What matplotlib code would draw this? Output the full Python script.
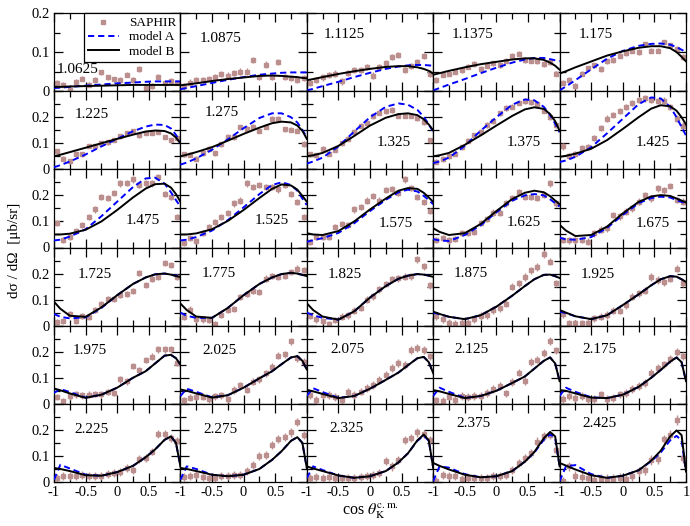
import matplotlib
matplotlib.use("Agg")
import matplotlib.pyplot as plt
from matplotlib.ticker import MultipleLocator
from matplotlib.lines import Line2D

plt.rcParams['font.family'] = ['Liberation Serif', 'DejaVu Serif']
plt.rcParams['mathtext.fontset'] = 'stix'

# ---------------- data ----------------
energies = ['1.0625', '1.0875', '1.1125', '1.1375', '1.175',
            '1.225', '1.275', '1.325', '1.375', '1.425',
            '1.475', '1.525', '1.575', '1.625', '1.675',
            '1.725', '1.775', '1.825', '1.875', '1.925',
            '1.975', '2.025', '2.075', '2.125', '2.175',
            '2.225', '2.275', '2.325', '2.375', '2.425']

cos_bins = [-0.95, -0.85, -0.75, -0.65, -0.55, -0.45, -0.35, -0.25, -0.15, -0.05,
            0.05, 0.15, 0.25, 0.35, 0.45, 0.55, 0.65, 0.75, 0.85, 0.95]

curve_x = [-1.0, -0.9, -0.75, -0.5, -0.25, 0.0, 0.25, 0.45, 0.6, 0.75, 0.85, 0.93, 1.0]

# SAPHIR data (ub/sr)
saphir_10625 = [0.022, 0.017, 0.004, 0.024, 0.032, 0.017, 0.028, 0.048, 0.035, 0.030, 0.029, 0.042, 0.029, 0.057, 0.009, 0.013, 0.037, 0.020, 0.026, 0.022]
saphir_10875 = [0.012, 0.022, 0.028, 0.029, 0.032, 0.035, 0.043, 0.040, 0.046, 0.050, 0.050, 0.080, 0.037, 0.068, 0.036, 0.074, 0.036, 0.034, 0.028, 0.033]
saphir_11125 = [0.022, 0.028, 0.035, 0.042, 0.045, 0.025, 0.047, 0.055, 0.055, 0.062, 0.040, 0.062, 0.072, 0.088, 0.093, 0.055, 0.065, 0.075, 0.090, 0.045]
saphir_11375 = [0.029, 0.042, 0.045, 0.050, 0.054, 0.063, 0.070, 0.057, 0.065, 0.071, 0.067, 0.078, 0.091, 0.096, 0.080, 0.078, 0.077, 0.070, 0.074, 0.045]
saphir_1175 = [0.022, 0.028, 0.013, 0.045, 0.058, 0.066, 0.057, 0.076, 0.080, 0.091, 0.098, 0.104, 0.100, 0.120, 0.104, 0.104, 0.125, 0.117, 0.108, 0.088]
saphir_1225 = [0.070, 0.041, 0.031, 0.057, 0.057, 0.089, 0.089, 0.100, 0.104, 0.113, 0.127, 0.140, 0.146, 0.130, 0.140, 0.139, 0.143, 0.124, 0.113, 0.121]
saphir_1275 = [0.057, 0.056, 0.041, 0.062, 0.079, 0.062, 0.096, 0.124, 0.124, 0.162, 0.155, 0.164, 0.149, 0.164, 0.194, 0.195, 0.153, 0.152, 0.149, 0.097]
saphir_1325 = [0.057, 0.054, 0.079, 0.060, 0.075, 0.100, 0.117, 0.143, 0.168, 0.177, 0.205, 0.218, 0.222, 0.228, 0.206, 0.206, 0.206, 0.197, 0.181, 0.111]
saphir_1375 = [0.030, 0.040, 0.050, 0.060, 0.085, 0.110, 0.130, 0.145, 0.170, 0.185, 0.215, 0.235, 0.240, 0.255, 0.262, 0.258, 0.250, 0.225, 0.200, 0.170]
saphir_1425 = [0.088, 0.050, 0.060, 0.080, 0.085, 0.120, 0.160, 0.195, 0.208, 0.225, 0.240, 0.255, 0.265, 0.272, 0.266, 0.262, 0.264, 0.238, 0.195, 0.168]
saphir_1475 = [0.093, 0.029, 0.042, 0.064, 0.087, 0.116, 0.146, 0.195, 0.189, 0.208, 0.246, 0.248, 0.261, 0.239, 0.246, 0.246, 0.271, 0.205, 0.195, 0.118]
saphir_1525 = [0.019, 0.036, 0.025, 0.055, 0.078, 0.099, 0.118, 0.131, 0.169, 0.180, 0.246, 0.233, 0.240, 0.231, 0.233, 0.223, 0.239, 0.205, 0.176, 0.118]
saphir_1575 = [0.022, 0.040, 0.041, 0.040, 0.078, 0.091, 0.086, 0.146, 0.156, 0.180, 0.197, 0.180, 0.220, 0.224, 0.208, 0.261, 0.227, 0.195, 0.176, 0.141]
saphir_1625 = [0.029, 0.036, 0.027, 0.033, 0.055, 0.057, 0.061, 0.093, 0.108, 0.134, 0.131, 0.169, 0.189, 0.214, 0.195, 0.195, 0.189, 0.201, 0.246, 0.169]
saphir_1675 = [0.029, 0.027, 0.027, 0.029, 0.023, 0.055, 0.068, 0.074, 0.125, 0.119, 0.138, 0.150, 0.176, 0.201, 0.189, 0.227, 0.220, 0.236, 0.182, 0.176]
saphir_1725 = [0.015, 0.019, 0.045, 0.019, 0.038, 0.034, 0.060, 0.083, 0.102, 0.101, 0.117, 0.121, 0.134, 0.203, 0.155, 0.181, 0.187, 0.241, 0.232, 0.187]
saphir_1775 = [0.034, 0.062, 0.024, 0.024, 0.022, 0.006, 0.041, 0.062, 0.064, 0.111, 0.121, 0.134, 0.130, 0.181, 0.190, 0.187, 0.190, 0.206, 0.219, 0.213]
saphir_1825 = [0.037, 0.024, 0.018, 0.006, 0.022, 0.035, 0.040, 0.058, 0.068, 0.100, 0.112, 0.140, 0.160, 0.178, 0.182, 0.188, 0.190, 0.255, 0.228, 0.155]
saphir_1875 = [0.037, 0.025, 0.011, 0.006, 0.011, 0.011, 0.024, 0.037, 0.041, 0.060, 0.066, 0.085, 0.149, 0.162, 0.187, 0.213, 0.225, 0.275, 0.245, 0.162]
saphir_1925 = [0.045, 0.009, 0.009, 0.009, 0.011, 0.028, 0.034, 0.041, 0.057, 0.057, 0.079, 0.111, 0.124, 0.134, 0.187, 0.175, 0.168, 0.181, 0.219, 0.162]
saphir_1975 = [0.026, 0.010, 0.029, 0.036, 0.032, 0.035, 0.038, 0.036, 0.045, 0.042, 0.094, 0.087, 0.145, 0.129, 0.168, 0.181, 0.209, 0.209, 0.210, 0.158]
saphir_2025 = [0.014, 0.023, 0.027, 0.027, 0.019, 0.029, 0.032, 0.017, 0.053, 0.071, 0.055, 0.085, 0.094, 0.117, 0.142, 0.185, 0.190, 0.240, 0.175, 0.160]
saphir_2075 = [0.035, 0.015, 0.035, 0.035, 0.026, 0.015, 0.044, 0.035, 0.047, 0.060, 0.073, 0.092, 0.112, 0.137, 0.156, 0.150, 0.208, 0.214, 0.208, 0.182]
saphir_2125 = [0.013, 0.012, 0.028, 0.015, 0.030, 0.026, 0.030, 0.030, 0.042, 0.058, 0.070, 0.040, 0.085, 0.120, 0.087, 0.160, 0.170, 0.195, 0.240, 0.205]
saphir_2175 = [0.019, 0.029, 0.023, 0.029, 0.017, 0.019, 0.036, 0.019, 0.023, 0.036, 0.042, 0.058, 0.068, 0.081, 0.119, 0.138, 0.151, 0.171, 0.200, 0.185]
saphir_2225 = [0.015, 0.022, 0.022, 0.022, 0.028, 0.022, 0.024, 0.024, 0.032, 0.034, 0.037, 0.054, 0.045, 0.088, 0.092, 0.117, 0.185, 0.185, 0.168, 0.159]
saphir_2275 = [0.019, 0.024, 0.028, 0.019, 0.015, 0.015, 0.022, 0.024, 0.028, 0.028, 0.041, 0.066, 0.100, 0.104, 0.143, 0.164, 0.172, 0.190, 0.230, 0.180]
saphir_2325 = [0.015, 0.018, 0.015, 0.018, 0.015, 0.015, 0.015, 0.015, 0.018, 0.022, 0.028, 0.035, 0.080, 0.060, 0.085, 0.160, 0.168, 0.190, 0.185, 0.160]
saphir_2375 = [0.003, 0.028, 0.022, 0.022, 0.011, 0.015, 0.015, 0.015, 0.015, 0.022, 0.024, 0.028, 0.045, 0.073, 0.092, 0.111, 0.155, 0.175, 0.181, 0.124]
saphir_2425 = [0.003, 0.060, 0.024, 0.019, 0.015, 0.009, 0.011, 0.011, 0.011, 0.015, 0.011, 0.022, 0.041, 0.045, 0.085, 0.088, 0.164, 0.181, 0.238, 0.092]

# typical error per panel
saphir_err = [0.007, 0.008, 0.008, 0.007, 0.007,
              0.009, 0.010, 0.010, 0.010, 0.012,
              0.012, 0.012, 0.012, 0.012, 0.013,
              0.012, 0.012, 0.013, 0.014, 0.014,
              0.013, 0.014, 0.015, 0.015, 0.015,
              0.015, 0.016, 0.016, 0.016, 0.018]

# model B (solid)
modelB_10625 = [0.011, 0.011, 0.012, 0.013, 0.014, 0.015, 0.016, 0.016, 0.016, 0.016, 0.016, 0.016, 0.016]
modelB_10875 = [0.015, 0.017, 0.020, 0.026, 0.031, 0.035, 0.039, 0.040, 0.039, 0.037, 0.036, 0.034, 0.033]
modelB_11125 = [0.028, 0.031, 0.036, 0.044, 0.051, 0.057, 0.062, 0.064, 0.064, 0.061, 0.057, 0.052, 0.045]
modelB_11375 = [0.042, 0.046, 0.052, 0.061, 0.069, 0.075, 0.081, 0.084, 0.084, 0.080, 0.073, 0.065, 0.055]
modelB_1175 = [0.045, 0.051, 0.061, 0.076, 0.091, 0.102, 0.111, 0.115, 0.115, 0.110, 0.100, 0.088, 0.076]
modelB_1225 = [0.050, 0.056, 0.066, 0.083, 0.100, 0.117, 0.133, 0.145, 0.149, 0.147, 0.138, 0.122, 0.100]
modelB_1275 = [0.050, 0.056, 0.066, 0.085, 0.110, 0.136, 0.160, 0.177, 0.183, 0.180, 0.168, 0.148, 0.117]
modelB_1325 = [0.050, 0.054, 0.063, 0.090, 0.128, 0.168, 0.198, 0.212, 0.215, 0.208, 0.192, 0.172, 0.150]
modelB_1375 = [0.050, 0.054, 0.063, 0.094, 0.130, 0.168, 0.205, 0.230, 0.238, 0.232, 0.212, 0.185, 0.148]
modelB_1425 = [0.048, 0.052, 0.060, 0.079, 0.112, 0.155, 0.200, 0.233, 0.246, 0.242, 0.225, 0.200, 0.172]
modelB_1475 = [0.050, 0.050, 0.053, 0.068, 0.100, 0.144, 0.192, 0.226, 0.243, 0.245, 0.230, 0.205, 0.176]
modelB_1525 = [0.050, 0.050, 0.054, 0.070, 0.102, 0.144, 0.190, 0.225, 0.242, 0.238, 0.222, 0.198, 0.176]
modelB_1575 = [0.055, 0.050, 0.048, 0.063, 0.100, 0.146, 0.188, 0.218, 0.228, 0.225, 0.210, 0.192, 0.175]
modelB_1625 = [0.074, 0.060, 0.048, 0.055, 0.090, 0.140, 0.186, 0.210, 0.218, 0.212, 0.197, 0.180, 0.166]
modelB_1675 = [0.087, 0.065, 0.044, 0.048, 0.080, 0.131, 0.175, 0.196, 0.201, 0.198, 0.188, 0.180, 0.173]
modelB_1725 = [0.092, 0.065, 0.038, 0.034, 0.070, 0.117, 0.160, 0.185, 0.197, 0.200, 0.196, 0.190, 0.187]
modelB_1775 = [0.085, 0.060, 0.035, 0.030, 0.068, 0.117, 0.160, 0.185, 0.198, 0.203, 0.200, 0.195, 0.190]
modelB_1825 = [0.086, 0.060, 0.035, 0.023, 0.055, 0.108, 0.152, 0.180, 0.192, 0.198, 0.196, 0.192, 0.187]
modelB_1875 = [0.054, 0.045, 0.034, 0.025, 0.040, 0.073, 0.115, 0.152, 0.178, 0.195, 0.196, 0.190, 0.183]
modelB_1925 = [0.060, 0.050, 0.036, 0.025, 0.040, 0.079, 0.120, 0.155, 0.178, 0.190, 0.188, 0.178, 0.168]
modelB_1975 = [0.059, 0.052, 0.040, 0.023, 0.035, 0.062, 0.100, 0.125, 0.155, 0.185, 0.188, 0.175, 0.151]
modelB_2025 = [0.055, 0.050, 0.040, 0.024, 0.033, 0.062, 0.098, 0.125, 0.152, 0.178, 0.183, 0.165, 0.132]
modelB_2075 = [0.054, 0.048, 0.038, 0.022, 0.030, 0.058, 0.092, 0.120, 0.148, 0.175, 0.180, 0.160, 0.118]
modelB_2125 = [0.053, 0.048, 0.038, 0.022, 0.030, 0.050, 0.080, 0.105, 0.135, 0.165, 0.178, 0.155, 0.087]
modelB_2175 = [0.053, 0.050, 0.040, 0.024, 0.022, 0.035, 0.065, 0.100, 0.130, 0.162, 0.178, 0.160, 0.087]
modelB_2225 = [0.054, 0.050, 0.042, 0.026, 0.024, 0.038, 0.062, 0.095, 0.125, 0.162, 0.175, 0.150, 0.060]
modelB_2275 = [0.054, 0.050, 0.042, 0.028, 0.022, 0.028, 0.050, 0.085, 0.118, 0.158, 0.172, 0.150, 0.054]
modelB_2325 = [0.060, 0.052, 0.042, 0.025, 0.016, 0.022, 0.042, 0.075, 0.110, 0.160, 0.182, 0.160, 0.054]
modelB_2375 = [0.073, 0.062, 0.048, 0.028, 0.018, 0.022, 0.042, 0.078, 0.115, 0.168, 0.192, 0.175, 0.060]
modelB_2425 = [0.073, 0.063, 0.048, 0.026, 0.016, 0.024, 0.045, 0.082, 0.120, 0.175, 0.198, 0.180, 0.040]

# model A (dashed)
modelA_10625 = [0.008, 0.009, 0.011, 0.014, 0.017, 0.020, 0.022, 0.024, 0.025, 0.025, 0.025, 0.025, 0.025]
modelA_10875 = [0.005, 0.008, 0.013, 0.021, 0.029, 0.036, 0.042, 0.045, 0.047, 0.048, 0.048, 0.048, 0.048]
modelA_11125 = [0.002, 0.006, 0.013, 0.024, 0.036, 0.047, 0.057, 0.063, 0.066, 0.067, 0.067, 0.066, 0.065]
modelA_11375 = [0.002, 0.008, 0.017, 0.031, 0.046, 0.060, 0.073, 0.081, 0.085, 0.085, 0.082, 0.079, 0.077]
modelA_1175 = [0.002, 0.012, 0.028, 0.056, 0.083, 0.103, 0.116, 0.121, 0.122, 0.119, 0.113, 0.106, 0.100]
modelA_1225 = [0.008, 0.016, 0.030, 0.057, 0.088, 0.117, 0.146, 0.164, 0.172, 0.170, 0.157, 0.132, 0.100]
modelA_1275 = [0.018, 0.026, 0.042, 0.075, 0.115, 0.158, 0.197, 0.215, 0.215, 0.200, 0.180, 0.152, 0.122]
modelA_1325 = [0.022, 0.030, 0.045, 0.088, 0.145, 0.200, 0.240, 0.253, 0.248, 0.228, 0.202, 0.172, 0.145]
modelA_1375 = [0.024, 0.030, 0.045, 0.090, 0.148, 0.200, 0.248, 0.268, 0.265, 0.240, 0.208, 0.175, 0.142]
modelA_1425 = [0.028, 0.034, 0.048, 0.085, 0.138, 0.194, 0.250, 0.276, 0.272, 0.240, 0.200, 0.162, 0.130]
modelA_1475 = [0.027, 0.030, 0.042, 0.070, 0.120, 0.176, 0.232, 0.265, 0.268, 0.245, 0.212, 0.182, 0.157]
modelA_1525 = [0.027, 0.030, 0.040, 0.065, 0.105, 0.154, 0.205, 0.240, 0.250, 0.240, 0.218, 0.188, 0.163]
modelA_1575 = [0.022, 0.028, 0.036, 0.056, 0.093, 0.140, 0.183, 0.212, 0.222, 0.215, 0.198, 0.182, 0.166]
modelA_1625 = [0.032, 0.027, 0.025, 0.048, 0.085, 0.135, 0.180, 0.200, 0.205, 0.200, 0.185, 0.170, 0.157]
modelA_1675 = [0.038, 0.031, 0.030, 0.040, 0.075, 0.125, 0.170, 0.190, 0.195, 0.192, 0.182, 0.175, 0.170]
modelA_1725 = [0.045, 0.034, 0.028, 0.032, 0.068, 0.117, 0.160, 0.185, 0.197, 0.200, 0.196, 0.192, 0.190]
modelA_1775 = [0.050, 0.038, 0.030, 0.030, 0.068, 0.117, 0.160, 0.185, 0.198, 0.203, 0.200, 0.195, 0.190]
modelA_1825 = [0.050, 0.040, 0.030, 0.023, 0.055, 0.108, 0.152, 0.180, 0.192, 0.198, 0.196, 0.192, 0.187]
modelA_1875 = [0.050, 0.044, 0.034, 0.025, 0.040, 0.073, 0.115, 0.152, 0.178, 0.195, 0.196, 0.190, 0.183]
modelA_1925 = [0.054, 0.048, 0.036, 0.025, 0.040, 0.079, 0.120, 0.155, 0.178, 0.190, 0.188, 0.178, 0.168]
modelA_1975 = [0.042, 0.057, 0.045, 0.024, 0.035, 0.062, 0.100, 0.125, 0.155, 0.185, 0.188, 0.175, 0.151]
modelA_2025 = [0.030, 0.058, 0.046, 0.025, 0.033, 0.062, 0.098, 0.125, 0.152, 0.178, 0.183, 0.165, 0.132]
modelA_2075 = [0.031, 0.060, 0.045, 0.023, 0.030, 0.058, 0.092, 0.120, 0.148, 0.175, 0.180, 0.160, 0.118]
modelA_2125 = [0.030, 0.062, 0.046, 0.023, 0.030, 0.050, 0.080, 0.105, 0.135, 0.165, 0.178, 0.155, 0.087]
modelA_2175 = [0.030, 0.062, 0.046, 0.025, 0.022, 0.035, 0.065, 0.100, 0.130, 0.162, 0.178, 0.160, 0.087]
modelA_2225 = [0.009, 0.066, 0.052, 0.028, 0.024, 0.038, 0.062, 0.095, 0.125, 0.162, 0.175, 0.150, 0.060]
modelA_2275 = [0.009, 0.060, 0.050, 0.028, 0.022, 0.028, 0.050, 0.085, 0.118, 0.158, 0.172, 0.150, 0.054]
modelA_2325 = [0.015, 0.060, 0.046, 0.025, 0.016, 0.022, 0.042, 0.075, 0.110, 0.158, 0.178, 0.158, 0.054]
modelA_2375 = [0.003, 0.060, 0.055, 0.030, 0.018, 0.022, 0.042, 0.078, 0.113, 0.162, 0.183, 0.168, 0.060]
modelA_2425 = [0.003, 0.060, 0.065, 0.030, 0.016, 0.024, 0.045, 0.080, 0.113, 0.160, 0.177, 0.160, 0.040]

saphir = [saphir_10625, saphir_10875, saphir_11125, saphir_11375, saphir_1175,
          saphir_1225, saphir_1275, saphir_1325, saphir_1375, saphir_1425,
          saphir_1475, saphir_1525, saphir_1575, saphir_1625, saphir_1675,
          saphir_1725, saphir_1775, saphir_1825, saphir_1875, saphir_1925,
          saphir_1975, saphir_2025, saphir_2075, saphir_2125, saphir_2175,
          saphir_2225, saphir_2275, saphir_2325, saphir_2375, saphir_2425]
modelA = [modelA_10625, modelA_10875, modelA_11125, modelA_11375, modelA_1175,
          modelA_1225, modelA_1275, modelA_1325, modelA_1375, modelA_1425,
          modelA_1475, modelA_1525, modelA_1575, modelA_1625, modelA_1675,
          modelA_1725, modelA_1775, modelA_1825, modelA_1875, modelA_1925,
          modelA_1975, modelA_2025, modelA_2075, modelA_2125, modelA_2175,
          modelA_2225, modelA_2275, modelA_2325, modelA_2375, modelA_2425]
modelB = [modelB_10625, modelB_10875, modelB_11125, modelB_11375, modelB_1175,
          modelB_1225, modelB_1275, modelB_1325, modelB_1375, modelB_1425,
          modelB_1475, modelB_1525, modelB_1575, modelB_1625, modelB_1675,
          modelB_1725, modelB_1775, modelB_1825, modelB_1875, modelB_1925,
          modelB_1975, modelB_2025, modelB_2075, modelB_2125, modelB_2175,
          modelB_2225, modelB_2275, modelB_2325, modelB_2375, modelB_2425]

# ---------------- layout (label positions in data coords) ----------------
label_pos = [(-0.96, 0.056), (-0.70, 0.135), (-0.73, 0.144), (-0.715, 0.144), (-0.70, 0.144),
             (-0.68, 0.211), (-0.62, 0.220), (0.10, 0.103), (0.155, 0.103), (0.20, 0.103),
             (0.14, 0.102), (0.17, 0.102), (0.13, 0.093), (0.155, 0.095), (0.21, 0.093),
             (-0.62, 0.197), (-0.66, 0.200), (-0.67, 0.197), (-0.67, 0.200), (-0.67, 0.197),
             (-0.70, 0.205), (-0.66, 0.205), (-0.63, 0.207), (-0.67, 0.208), (-0.64, 0.208),
             (-0.68, 0.200), (-0.63, 0.200), (-0.65, 0.205), (-0.64, 0.223), (-0.64, 0.223)]

W, H = 690, 526
fig, axes = plt.subplots(6, 5, figsize=(W / 100, H / 100), dpi=100)
fig.subplots_adjust(left=54 / W, right=686 / W, top=1 - 13 / H, bottom=1 - 482 / H,
                    wspace=0, hspace=0)

pt_color = '#BC8F8F'
for i, ax in enumerate(axes.flat):
    r, c = divmod(i, 5)
    ax.errorbar(cos_bins, saphir[i], yerr=saphir_err[i], fmt='s', ms=3.5,
                color=pt_color, ecolor=pt_color, elinewidth=1.0, capsize=0,
                mec=pt_color, zorder=2)
    ax.plot(curve_x, modelA[i], color='#0000FF', lw=1.4, ls=(0, (3.2, 2.0)), zorder=3)
    ax.plot(curve_x, modelB[i], color='black', lw=1.4, zorder=4)
    ax.set_xlim(-1, 1)
    ymax = 0.2 if r == 0 else 0.3
    ax.set_ylim(0, ymax)
    ax.xaxis.set_major_locator(MultipleLocator(0.5))
    ax.xaxis.set_minor_locator(MultipleLocator(0.25))
    ax.yaxis.set_minor_locator(MultipleLocator(0.05))
    if r == 0:
        ax.set_yticks([0, 0.1, 0.2])
        ylabels = ['0', '0.1', '0.2']
    else:
        ax.set_yticks([0, 0.1, 0.2, 0.3])
        ylabels = ['0', '0.1', '0.2', '']
    ax.set_xticks([-1, -0.5, 0, 0.5, 1])
    if c == 0:
        ax.set_yticklabels(ylabels)
    else:
        ax.set_yticklabels([''] * len(ylabels))
    if r == 5:
        ax.set_xticklabels(['-1', '-0.5', '0', '0.5', '1' if c == 4 else ''])
    else:
        ax.set_xticklabels([''] * 5)
    ax.tick_params(which='both', direction='in', top=True, right=True,
                   labelsize=10.5, width=0.9, pad=3)
    ax.tick_params(which='major', length=6.5)
    ax.tick_params(which='minor', length=4)
    for s in ax.spines.values():
        s.set_linewidth(0.9)
    lx, ly = label_pos[i]
    ax.text(lx, ly, energies[i], fontsize=11, ha='left', va='center', zorder=6)

# legend in first panel
h_s = Line2D([], [], marker='s', ls='none', color=pt_color, ms=3.5)
h_a = Line2D([], [], color='#0000FF', lw=1.4, ls=(0, (3.2, 2.0)))
h_b = Line2D([], [], color='black', lw=1.4)
leg = axes[0, 0].legend([h_s, h_a, h_b], ['SAPHIR', 'model A', 'model B'],
                        loc='upper right', borderaxespad=0, fontsize=9.5,
                        frameon=True, fancybox=False, framealpha=1,
                        edgecolor='black', handlelength=2.3, handletextpad=0.8,
                        labelspacing=0.15, borderpad=0.3, numpoints=1)
leg.get_frame().set_linewidth(0.9)
leg.set_zorder(10)

fig.text(15 / W, 1 - 250 / H, 'dσ / dΩ  [μb/sr]', rotation=90,
         ha='center', va='center', fontsize=11)
fig.text(370 / W, 1 - 511 / H, r'cos $\theta_{\rm K}^{\rm c.m.}$', ha='center', va='center',
         fontsize=11.5)

fig.savefig('out.png', dpi=100)
